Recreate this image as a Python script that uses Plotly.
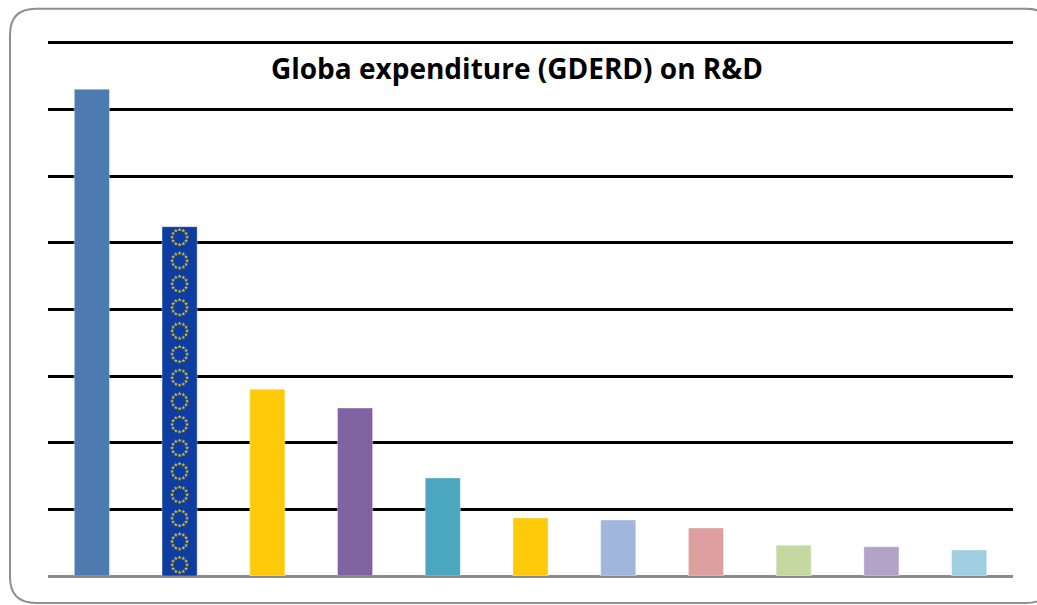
import plotly.graph_objects as go
import numpy as np

categories = ["C1", "C2", "C3", "C4", "C5", "C6", "C7", "C8", "C9", "C10", "C11"]
values = [365, 262, 140, 126, 73.5, 43.5, 42, 36, 23, 22, 19.5]
colors = ["#4D7BAF", "#0D3DA0", "#FFCA0A", "#8064A2", "#4BA6BF", "#FFCA0A",
          "#A0B6DC", "#DDA09F", "#C5D8A0", "#B3A3C8", "#9ECEDF"]
title_text = "Globa expenditure (GDERD) on R&D"

W, H = 1037, 605
L, R, B = 48, 1013, 576
T400 = 43
YMAX = 400
YTOP = 402  # a little headroom so the 400 gridline is drawn
px_per_unit = (B - T400) / YMAX
T = B - YTOP * px_per_unit

fig = go.Figure()
fig.add_trace(go.Bar(
    x=categories, y=values,
    marker=dict(color=colors, line=dict(width=0.6, color="rgba(255,255,255,0.6)")),
    width=0.4, hoverinfo="skip", showlegend=False))

# EU star-circle decoration on the second bar, derived from its value
eu_idx = 1
px_per_cat = (R - L) / len(categories)
spacing = 23.4 / px_per_unit
top_off = 10.5 / px_per_unit
ry = 7.5 / px_per_unit
rx = 7.5 / px_per_cat
sx, sy = [], []
cy = values[eu_idx] - top_off
while cy > 9 / px_per_unit:
    for k in range(12):
        a = 2 * np.pi * k / 12
        sx.append(eu_idx + rx * np.cos(a))
        sy.append(cy + ry * np.sin(a))
    cy -= spacing
fig.add_trace(go.Scatter(x=sx, y=sy, mode="markers",
                         marker=dict(symbol="star", size=3.2, color="#D8BC2A", line=dict(width=0)),
                         hoverinfo="skip", showlegend=False, xaxis="x2"))


def px(x):
    return (x - L) / (R - L)


def py(y):
    return (B - y) / (B - T)


x0, x1, y0, y1, r = 10, 1052, 9, 603, 26
path = (f"M {px(x0+r)},{py(y0)} L {px(x1-r)},{py(y0)} Q {px(x1)},{py(y0)} {px(x1)},{py(y0+r)} "
        f"L {px(x1)},{py(y1-r)} Q {px(x1)},{py(y1)} {px(x1-r)},{py(y1)} "
        f"L {px(x0+r)},{py(y1)} Q {px(x0)},{py(y1)} {px(x0)},{py(y1-r)} "
        f"L {px(x0)},{py(y0+r)} Q {px(x0)},{py(y0)} {px(x0+r)},{py(y0)} Z")

fig.update_layout(
    width=W, height=H,
    margin=dict(l=L, r=W - R, t=T, b=H - B),
    paper_bgcolor="white", plot_bgcolor="white",
    bargap=0.6,
    title=dict(text=f"<b>{title_text}</b>", x=517 / W, xanchor="center",
               y=1 - 69 / H, yanchor="middle",
               font=dict(family="Open Sans", size=28, color="black")),
    xaxis=dict(showticklabels=False, showgrid=False, zeroline=False, showline=False,
               ticks="", range=[-0.5, len(categories) - 0.5]),
    xaxis2=dict(overlaying="x", range=[-0.5, len(categories) - 0.5], visible=False),
    yaxis=dict(range=[0, YTOP], tick0=0, dtick=50, showticklabels=False, ticks="",
               showgrid=True, gridcolor="black", gridwidth=2.6,
               zeroline=True, zerolinecolor="#8C8C8C", zerolinewidth=2.6, showline=False),
    shapes=[dict(type="path", path=path, xref="paper", yref="paper",
                 line=dict(color="#8E8E8E", width=2), layer="below")],
)

fig.write_html("out.html", config={"displayModeBar": False},
               post_script="document.body.style.margin='0';document.body.style.overflow='hidden';")
